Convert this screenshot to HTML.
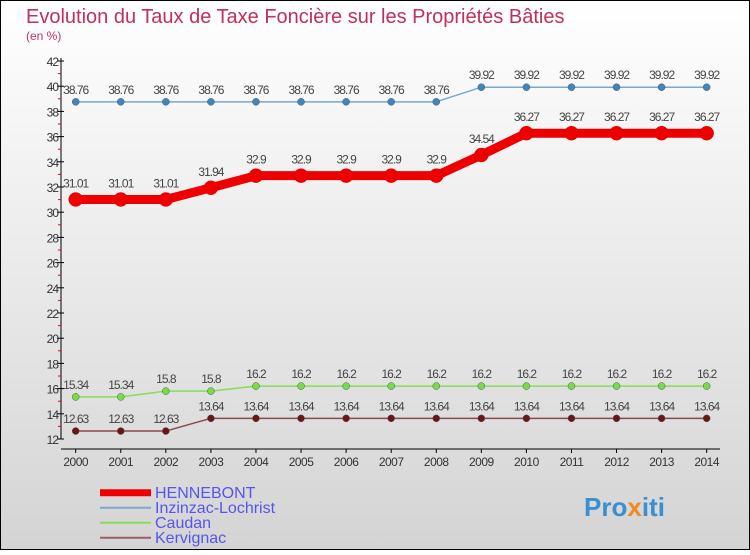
<!DOCTYPE html>
<html><head><meta charset="utf-8"><style>
body{margin:0;width:750px;height:550px;overflow:hidden;font-family:"Liberation Sans",sans-serif}
</style></head><body>
<svg width="750" height="550" xmlns="http://www.w3.org/2000/svg">
<defs><linearGradient id="bg" x1="0" y1="0" x2="0" y2="1"><stop offset="0" stop-color="#ffffff"/><stop offset="1" stop-color="#d4d4d4"/></linearGradient></defs>
<rect x="0.5" y="0.5" width="749" height="549" fill="url(#bg)" stroke="#000"/>
<text x="26" y="23" font-size="20" fill="#c0305a">Evolution du Taux de Taxe Foncière sur les Propriétés Bâties</text>
<text x="26" y="40" font-size="12" fill="#c0305a">(en %)</text>
<g id="axes"></g><g id="series"></g><g id="legend"></g>
<text x="584" y="516" font-size="26" font-weight="bold" fill="#3a8fd0">Pro<tspan fill="#f08a20">x</tspan>iti</text>
</svg>
<script>
const years=[2000,2001,2002,2003,2004,2005,2006,2007,2008,2009,2010,2011,2012,2013,2014];
const hennebont=[31.01,31.01,31.01,31.94,32.9,32.9,32.9,32.9,32.9,34.54,36.27,36.27,36.27,36.27,36.27];
const inzinzac=[38.76,38.76,38.76,38.76,38.76,38.76,38.76,38.76,38.76,39.92,39.92,39.92,39.92,39.92,39.92];
const caudan=[15.34,15.34,15.8,15.8,16.2,16.2,16.2,16.2,16.2,16.2,16.2,16.2,16.2,16.2,16.2];
const kervignac=[12.63,12.63,12.63,13.64,13.64,13.64,13.64,13.64,13.64,13.64,13.64,13.64,13.64,13.64,13.64];
const yTicks=[12,14,16,18,20,22,24,26,28,30,32,34,36,38,40,42];
const seriesNames=["HENNEBONT","Inzinzac-Lochrist","Caudan","Kervignac"];
const NS="http://www.w3.org/2000/svg";
const xs=i=>75.7+i*45.07;
const ys=v=>61+(42-v)*12.6;
function mk(t,a,p){const e=document.createElementNS(NS,t);for(const k in a)e.setAttribute(k,a[k]);p.appendChild(e);return e;}
const ax=document.getElementById('axes');
let yl=mk('line',{x1:61,y1:58,x2:61,y2:ys(12),stroke:'#000'},ax);


yTicks.forEach(v=>{
 mk('line',{x1:57,x2:64,y1:ys(v),y2:ys(v),stroke:'#000'},ax);
 if(v<42)mk('line',{x1:58,x2:61,y1:ys(v+1),y2:ys(v+1),stroke:'#e00'},ax);
 const t=mk('text',{x:58,y:ys(v)+5,'font-size':12,'text-anchor':'end',fill:'#333','letter-spacing':'-1'},ax);t.textContent=v;
 
 
});
let xl=mk('line',{x1:61,y1:449,x2:720,y2:449,stroke:'#000'},ax);


years.forEach((y,i)=>{
 mk('line',{x1:xs(i),x2:xs(i),y1:449,y2:453,stroke:'#000'},ax);
 const t=mk('text',{x:xs(i),y:466,'font-size':12,'text-anchor':'middle',fill:'#333','letter-spacing':'-0.5'},ax);t.textContent=y;
 
 
});
const sg=document.getElementById('series');
const defs=[[hennebont,'#ee0000',9,7,'hennebont'],[inzinzac,'#7aa9c9',1.5,3.5,'inzinzac'],[caudan,'#88dd55',1.5,3.5,'caudan'],[kervignac,'#8a4a4a',1.5,3.5,'kervignac']];
const dotCol=['#ee0000','#3f85c0','#77dd44','#6b1515'];
defs.forEach(([vals,col,w,r,nm],si)=>{
 const pl=mk('polyline',{points:vals.map((v,i)=>xs(i)+','+ys(v)).join(' '),fill:'none',stroke:col,'stroke-width':w,'stroke-linejoin':'round'},sg);
 
 
 vals.forEach((v,i)=>{
  const c=mk('circle',{cx:xs(i),cy:ys(v),r:r,fill:dotCol[si],stroke:si==0?'#d00':'#555','stroke-width':0.5},sg);
  
  
  const t=mk('text',{x:xs(i),y:ys(v)-(si==0?12:8),'font-size':12,'text-anchor':'middle',fill:'#444','letter-spacing':'-1'},sg);
  t.textContent=String(v);
  
  
 });
});
const lg=document.getElementById('legend');
const lw=[7,2,2,2],lc=['#ee0000','#7aa9c9','#88dd55','#9a6060'];
seriesNames.forEach((n,i)=>{
 const y=492.7+i*15;
 const l=mk('line',{x1:100,x2:151,y1:y,y2:y,stroke:lc[i],'stroke-width':lw[i]},lg);
 
 
 const t=mk('text',{x:155,y:y+5.5,'font-size':16,fill:'#5555ee'},lg);t.textContent=n;
 
 
});
</script>
</body></html>
